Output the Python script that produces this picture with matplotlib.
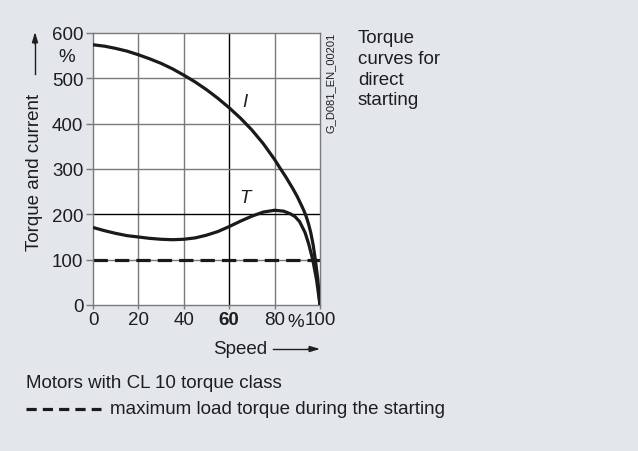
import matplotlib
matplotlib.use("Agg")
import matplotlib.pyplot as plt
from matplotlib.lines import Line2D

plt.rcParams['font.family'] = ['Liberation Sans', 'DejaVu Sans']

# Speed in % of synchronous speed
speed_I = [0, 5, 10, 15, 20, 25, 30, 35, 40, 45, 50, 55, 60, 65, 70, 75, 80,
           82, 85, 88, 90, 92, 93, 94, 95, 96, 97, 98, 99, 100]
current = [574, 571, 566, 560, 552, 543, 533, 521, 507, 492, 475, 456, 435,
           412, 386, 356, 321, 305, 282, 257, 239, 218, 207, 194, 178, 158,
           132, 98, 58, 0]

speed_T = [0, 5, 10, 15, 20, 25, 30, 35, 40, 45, 50, 55, 60, 65, 70, 75, 80,
           84, 87, 89, 91, 93.4, 95, 96.8, 98.5, 100]
torque = [171, 164, 158, 153, 150, 147, 145, 144, 145, 148, 154, 162, 173,
          185, 196, 205, 209, 207, 201, 195, 184, 160, 135, 100, 55, 0]

max_load = 100

x_ticks = [0, 20, 40, 60, 80, 100]
y_ticks = [0, 100, 200, 300, 400, 500, 600]

W, H = 638, 452
BG = '#e3e7eb'
TXT = '#1e1e1e'
GRID = '#7a7a7a'
FS = 13.5

fig = plt.figure(figsize=(W / 100, H / 100), dpi=100)
fig.patch.set_facecolor(BG)


def fx(px):
    return px / W


def fy(py):
    return 1 - py / H


ax = fig.add_axes([fx(93), fy(306), fx(320) - fx(93), fy(34) - fy(306)])
ax.set_facecolor('white')
ax.set_xlim(0, 100)
ax.set_ylim(0, 600)

# grid
for xv in x_ticks[1:-1]:
    ax.axvline(xv, color='black' if xv == 60 else GRID, lw=1.0, zorder=1)
for yv in y_ticks[1:-1]:
    ax.axhline(yv, color='black' if yv == 200 else GRID, lw=1.0, zorder=1)
for s in ax.spines.values():
    s.set_color(GRID)
    s.set_linewidth(1.0)

ax.set_xticks(x_ticks)
ax.set_yticks(y_ticks)
ax.set_xticklabels([str(v) for v in x_ticks])
ax.set_yticklabels([str(v) for v in y_ticks])
ax.tick_params(axis='both', colors=GRID, labelcolor=TXT, labelsize=FS,
               length=5, width=1.0, pad=2)
ax.tick_params(axis='x', length=3, pad=1)
for lbl in ax.get_xticklabels():
    if lbl.get_text() == '60':
        lbl.set_fontweight('bold')

# curves
ax.plot(speed_I, current, color='#1a1a1a', lw=2.3, zorder=3,
        solid_capstyle='butt', solid_joinstyle='round')
ax.plot(speed_T, torque, color='#1a1a1a', lw=2.3, zorder=3,
        solid_capstyle='butt', solid_joinstyle='round')
ax.axhline(max_load, color='#1a1a1a', lw=2.3, dashes=(4.5, 2.2), zorder=2)

ax.text(67, 448, 'I', style='italic', fontsize=FS, color=TXT,
        ha='center', va='center')
ax.text(67, 238, 'T', style='italic', fontsize=FS, color=TXT,
        ha='center', va='center')

# axis annotations
fig.text(fx(296), fy(323), '%', fontsize=FS, color=TXT,
         ha='center', va='center')
fig.text(fx(67), fy(58), '%', fontsize=FS, color=TXT,
         ha='center', va='center')
fig.text(fx(35), fy(172), 'Torque and current', rotation=90,
         fontsize=FS, color=TXT, ha='center', va='center')
fig.add_artist(Line2D([fx(35), fx(35)], [fy(75), fy(40)], color=TXT,
                      lw=1.0, transform=fig.transFigure))
ax.annotate('', xy=(fx(35), fy(33)), xytext=(fx(35), fy(45)),
            xycoords='figure fraction', textcoords='figure fraction',
            arrowprops=dict(arrowstyle='-|>,head_width=0.18,head_length=0.6',
                            color=TXT, lw=1.0, shrinkA=0, shrinkB=0))
fig.text(fx(240), fy(349), 'Speed', fontsize=FS, color=TXT,
         ha='center', va='center')
fig.add_artist(Line2D([fx(273), fx(312)], [fy(350), fy(350)], color=TXT,
                      lw=1.0, transform=fig.transFigure))
ax.annotate('', xy=(fx(320), fy(350)), xytext=(fx(308), fy(350)),
            xycoords='figure fraction', textcoords='figure fraction',
            arrowprops=dict(arrowstyle='-|>,head_width=0.18,head_length=0.6',
                            color=TXT, lw=1.0, shrinkA=0, shrinkB=0))

fig.text(fx(331), fy(83), 'G_D081_EN_00201', rotation=90, fontsize=8,
         color=TXT, ha='center', va='center')
fig.text(fx(358), fy(30), 'Torque\ncurves for\ndirect\nstarting',
         fontsize=FS, color=TXT, ha='left', va='top', linespacing=1.29)

# notes below the chart
fig.text(fx(26), fy(383), 'Motors with CL 10 torque class', fontsize=FS,
         color=TXT, ha='left', va='center')
fig.add_artist(Line2D([fx(26), fx(101)], [fy(410), fy(410)], color='#1a1a1a',
                      lw=2.3, dashes=(3.2, 1.9), transform=fig.transFigure))
fig.text(fx(110), fy(410), 'maximum load torque during the starting',
         fontsize=FS, color=TXT, ha='left', va='center')

fig.savefig('out.png', dpi=100, facecolor=BG)
